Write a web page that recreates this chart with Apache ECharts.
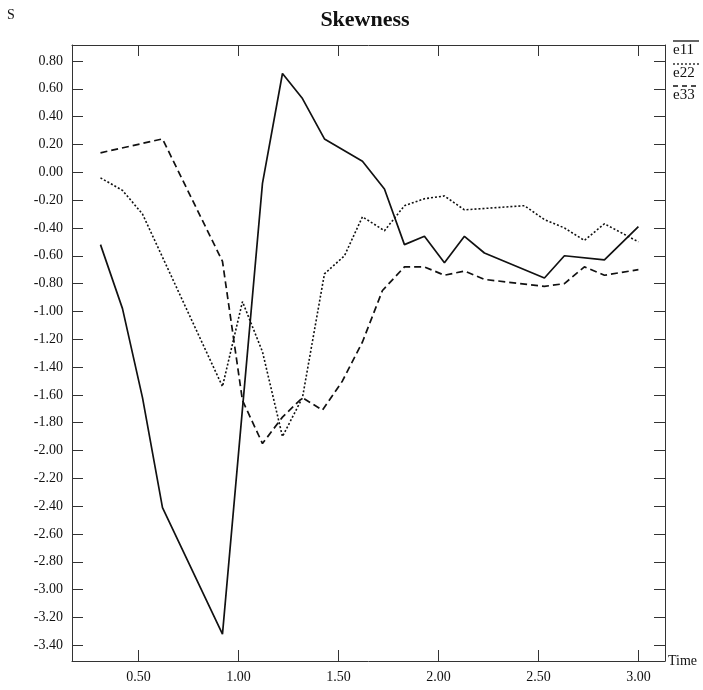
<!DOCTYPE html>
<html>
<head>
<meta charset="utf-8">
<script src="https://cdn.jsdelivr.net/npm/echarts@6/dist/echarts.min.js"></script>
<style>html,body{margin:0;padding:0;background:#fff}#c{width:703px;height:690px}</style>
</head>
<body>
<div id="c"></div>
<script>
// ---- data ----
var e11Time = [0.31, 0.42, 0.52, 0.62, 0.92, 1.12, 1.22, 1.32, 1.43, 1.62, 1.73, 1.83, 1.93, 2.03, 2.13, 2.23, 2.53, 2.63, 2.83, 3.00];
var e11Vals = [-0.52, -0.98, -1.62, -2.41, -3.32, -0.08, 0.71, 0.53, 0.24, 0.08, -0.12, -0.52, -0.46, -0.65, -0.46, -0.58, -0.76, -0.60, -0.63, -0.39];

var e22Time = [0.31, 0.42, 0.52, 0.92, 1.02, 1.12, 1.22, 1.32, 1.43, 1.53, 1.62, 1.73, 1.83, 1.93, 2.03, 2.13, 2.43, 2.53, 2.63, 2.73, 2.83, 3.00];
var e22Vals = [-0.04, -0.13, -0.30, -1.54, -0.93, -1.29, -1.90, -1.62, -0.73, -0.60, -0.32, -0.42, -0.24, -0.19, -0.17, -0.27, -0.24, -0.34, -0.40, -0.49, -0.37, -0.50];

var e33Time = [0.31, 0.62, 0.92, 1.02, 1.12, 1.22, 1.32, 1.42, 1.52, 1.62, 1.72, 1.83, 1.93, 2.03, 2.13, 2.23, 2.53, 2.63, 2.73, 2.83, 3.00];
var e33Vals = [0.14, 0.24, -0.64, -1.64, -1.95, -1.76, -1.62, -1.71, -1.50, -1.22, -0.85, -0.68, -0.68, -0.74, -0.71, -0.77, -0.82, -0.80, -0.68, -0.74, -0.70];

var xTicks = [0.5, 1.0, 1.5, 2.0, 2.5, 3.0];
var yTicks = [-3.4, -3.2, -3.0, -2.8, -2.6, -2.4, -2.2, -2.0, -1.8, -1.6, -1.4, -1.2, -1.0, -0.8, -0.6, -0.4, -0.2, 0.0, 0.2, 0.4, 0.6, 0.8];
var seriesNames = ['e11', 'e22', 'e33'];

function pairs(t, v) { return t.map(function (x, i) { return [x, v[i]]; }); }
function fmt(v) { return Math.abs(v) < 1e-9 ? '0.00' : v.toFixed(2); }

var FONT = 'Liberation Serif';
var INK = '#111';
var lineStyles = [
  { color: INK, width: 1.7, type: 'solid' },
  { color: INK, width: 1.6, type: [2, 2] },
  { color: INK, width: 1.7, type: [7, 4] }
];

var xMin = 0.1675, xMax = 3.133, yMin = -3.513, yMax = 0.915;

function xAx(pos, labels) {
  return {
    type: 'value', position: pos, min: xMin, max: xMax,
    name: labels ? 'Time' : '', nameLocation: 'end', nameGap: 3,
    nameTextStyle: { fontFamily: FONT, fontSize: 14, color: INK },
    axisLine: { show: true, onZero: false, lineStyle: { color: '#333', width: 1 } },
    axisTick: { show: true, inside: true, length: 11, customValues: xTicks, lineStyle: { color: '#333' } },
    axisLabel: { show: labels, customValues: xTicks, formatter: fmt, margin: 9, fontFamily: FONT, fontSize: 14, color: INK },
    splitLine: { show: false }
  };
}
function yAx(pos, labels) {
  return {
    type: 'value', position: pos, min: yMin, max: yMax,
    axisLine: { show: true, onZero: false, lineStyle: { color: '#333', width: 1 } },
    axisTick: { show: true, inside: true, length: 11, customValues: yTicks, lineStyle: { color: '#333' } },
    axisLabel: { show: labels, customValues: yTicks, formatter: fmt, margin: 9, fontFamily: FONT, fontSize: 14, color: INK },
    splitLine: { show: false }
  };
}

var legendGraphics = [];
var legendTops = [41, 64, 86];
seriesNames.forEach(function (n, i) {
  legendGraphics.push({
    type: 'line', shape: { x1: 673, y1: legendTops[i], x2: 699, y2: legendTops[i] },
    style: { stroke: INK, lineWidth: 1.3, lineDash: i === 0 ? null : (i === 1 ? [2, 2] : [5, 4]) }
  });
  legendGraphics.push({
    type: 'text', left: 673, top: legendTops[i] + 2,
    style: { text: n, font: '15px "Liberation Serif"', fill: INK }
  });
});
legendGraphics.push({ type: 'text', left: 7, top: 8, style: { text: 'S', font: '14px "Liberation Serif"', fill: INK } });

var chart = echarts.init(document.getElementById('c'), null, { renderer: 'canvas' });
chart.setOption({
  animation: false,
  backgroundColor: '#fff',
  title: {
    text: 'Skewness', left: 360, top: 4, textAlign: 'center',
    textStyle: { fontFamily: FONT, fontWeight: 'bold', fontSize: 22, color: INK }
  },
  grid: { left: 72, right: 38, top: 45, bottom: 29 },
  xAxis: [xAx('bottom', true), xAx('top', false)],
  yAxis: [yAx('left', true), yAx('right', false)],
  graphic: legendGraphics,
  series: [
    { name: seriesNames[0], type: 'line', data: pairs(e11Time, e11Vals), symbol: 'none', lineStyle: lineStyles[0], clip: true },
    { name: seriesNames[1], type: 'line', data: pairs(e22Time, e22Vals), symbol: 'none', lineStyle: lineStyles[1], clip: true },
    { name: seriesNames[2], type: 'line', data: pairs(e33Time, e33Vals), symbol: 'none', lineStyle: lineStyles[2], clip: true }
  ]
});
</script>
</body>
</html>
